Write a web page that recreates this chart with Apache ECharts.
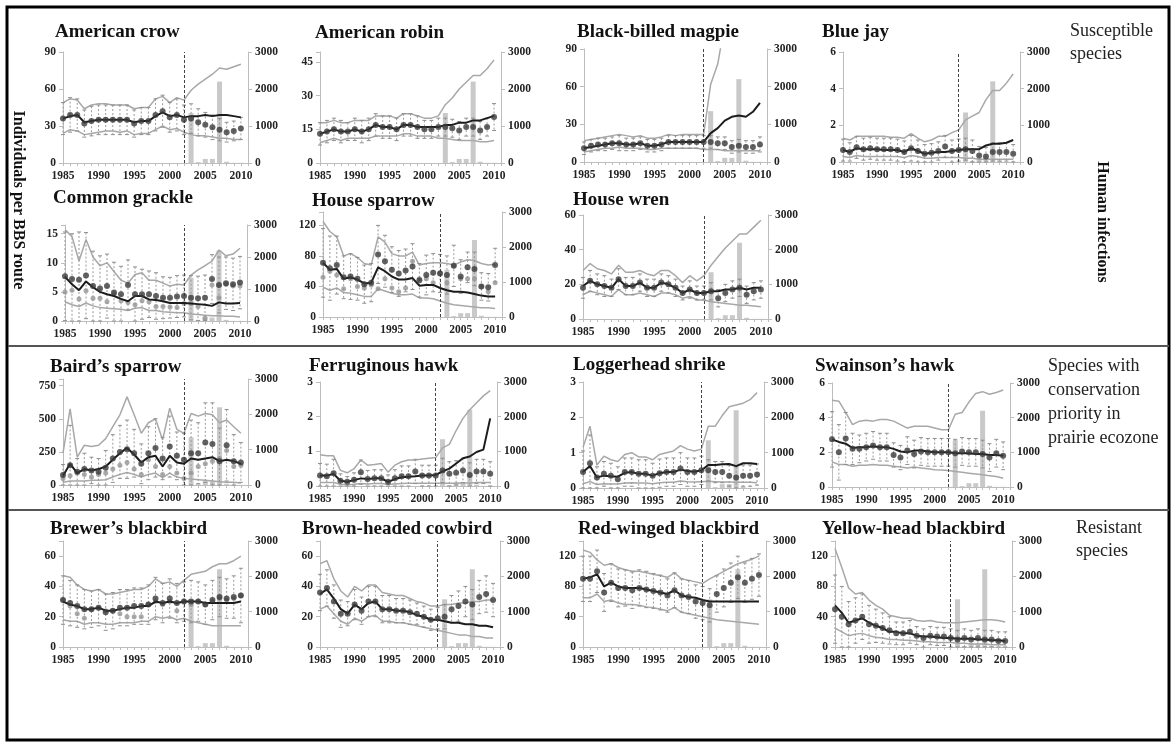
<!DOCTYPE html>
<html>
<head>
<meta charset="utf-8">
<script src="https://cdn.jsdelivr.net/npm/echarts@6/dist/echarts.min.js"></script>
<style>
  html, body { margin: 0; padding: 0; background: #fff; }
  #chart { width: 1176px; height: 746px; }
</style>
</head>
<body>
<div id="chart"></div>
<script>
// survey years and human WNV infections
const years = [1985,1986,1987,1988,1989,1990,1991,1992,1993,1994,1995,1996,1997,1998,1999,2000,2001,2002,2003,2004,2005,2006,2007,2008,2009,2010];
const infectionYears = [2003,2004,2005,2006,2007,2008,2009,2010];
const infections = [1350,25,110,110,2200,35,5,5];

// American crow
const crowObs = [36,39,39,32,34,35,35,35,35,35,32,34,34,39,42,37,39,35,36,33,31,29,27,25,26,28];
const crowErr = [13,14,13,11,12,12,12,12,12,12,11,11,11,13,13,12,13,12,12,11,10,10,9,8,8,9];
const crowTrend = [36,38,39,33,34,35,35,35,35,35,33,34,34,38,41,38,39,37,38,38,39,38,39,39,38,37];
const crowUpper = [49,52,51,44,47,48,48,47,47,47,44,45,45,52,54,49,53,51,59,64,68,72,77,76,78,80];
const crowLower = [24,27,26,23,24,25,26,26,25,26,23,24,24,27,30,27,28,25,23,22,22,21,20,20,19,19];

// American robin
const robinObs = [13,14,15,14,14,15,14,15,17,16,16,15,17,17,16,15,15,16,16,15.5,14.5,16,16,14.5,16,20.5];
const robinErr = [5,5,5,5,4,5,5,5,5,5,5,5,5,5,5,4,4,4,4,4,4,4,4,4,4,6];
const robinTrend = [13,14,15,14,14,15,14,15,17,16,16,15,17,17,16,16,16,16,17,17,18,18,19,19,20,21];
const robinUpper = [18,18,19,18,18,19,19,19,21,21,21,20,22,22,21,20,20,21,26,29,33,36,39,39,42,46];
const robinLower = [9,10,11,10,11,11,11,11,12,12,12,12,13,13,12,12,12,11,11,10.5,10,10,10,9.5,9.5,10];

// Black-billed magpie
const magpieObs = [11,13,14,14,15,15,14,14,15,13,13,14,16,16,16,16,16,16,16,15,15,12,13,12,12,14];
const magpieErr = [5,5,5,5,5,6,5,5,5,5,5,5,5,5,5,5,5,5,5,5,5,5,5,5,5,6];
const magpieTrend = [11,12,13,14,15,15,14,14,15,13,13,14,16,16,16,16,16,16,23,27,33,36,37,36,40,47];
const magpieUpper = [17,18,19,20,21,22,21,20,21,19,19,20,22,21,22,22,22,22,62,78,110,140,160,175,190,210];
const magpieLower = [8,9,10,11,11,12,11,11,11,10,10,11,11,11,11,11,11,10,10,10,9,9,9,9,9,9];

// Blue jay
const bluejayObs = [0.65,0.55,0.8,0.7,0.75,0.7,0.7,0.7,0.65,0.55,0.75,0.6,0.45,0.5,0.6,0.85,0.6,0.65,0.7,0.6,0.35,0.3,0.55,0.55,0.55,0.45];
const bluejayErr = [0.6,0.5,0.6,0.6,0.6,0.6,0.6,0.6,0.6,0.6,0.7,0.6,0.5,0.5,0.5,0.6,0.6,0.6,0.6,0.6,0.5,0.5,0.5,0.5,0.5,0.5];
const bluejayTrend = [0.65,0.55,0.75,0.7,0.7,0.7,0.65,0.65,0.65,0.55,0.75,0.6,0.45,0.5,0.55,0.55,0.6,0.65,0.7,0.7,0.7,0.9,1.0,1.0,1.05,1.2];
const bluejayUpper = [1.3,1.2,1.4,1.4,1.4,1.4,1.4,1.35,1.35,1.3,1.55,1.3,1.1,1.2,1.4,1.4,1.6,1.75,2.3,2.5,2.7,3.4,3.9,3.9,4.3,4.8];
const bluejayLower = [0.3,0.25,0.35,0.3,0.3,0.3,0.3,0.3,0.3,0.25,0.35,0.3,0.2,0.2,0.25,0.25,0.25,0.25,0.2,0.2,0.15,0.15,0.15,0.15,0.15,0.15];

// Common grackle
const grackleObs = [7.7,7.2,7.1,7.8,6.0,5.6,6.0,4.9,4.6,6.2,4.6,4.6,4.6,4.3,4.0,4.0,4.2,4.3,4.0,3.9,4.0,7.2,6.2,6.5,6.3,6.6];
const grackleObs2 = [5.0,5.3,3.8,5.2,3.9,3.9,3.3,4.6,3.5,3.2,2.8,3.5,3.3,2.5,2.5,2.4,2.3,3.0,3.0,2.5,0.5,6.2,4.0,6.3,6.0,6.0];
const grackleErr = [7.6,7.8,8.2,7.4,6.0,5.6,5.5,5.2,4.8,4.3,4.7,4.3,4.0,4.0,3.6,3.5,3.6,3.6,3.8,3.8,3.9,4.2,4.8,4.5,4.5,4.5];
const grackleTrend = [7.6,6.3,5.3,6.8,5.8,5.0,4.6,4.3,3.8,3.4,4.3,4.3,3.7,3.6,3.4,3.1,3.1,3.1,3.0,2.9,2.8,2.6,3.2,3.0,3.0,3.1];
const grackleUpper = [15.7,14.5,10.3,14,11,9.5,10,8.5,7,6.5,8,8.3,7,7,6.5,6,6.3,6.2,7.9,8.8,9.5,10.3,12.2,11.2,11.5,12.5];
const grackleLower = [3.3,2.8,2.5,3.1,2.6,2.3,2.2,2.1,2.0,1.8,2.2,2.3,1.8,1.8,1.6,1.5,1.4,1.4,1.2,1.1,1.0,0.9,0.9,0.8,0.8,0.7];

// House sparrow
const sparrowObs = [71,64,68,52,53,50,43,45,82,73,62,57,61,66,48,55,58,57,55,67,53,65,63,40,39,68];
const sparrowObs2 = [52,60,55,37,50,40,38,42,37,50,38,33,38,73,50,50,45,58,45,67,50,50,50,40,33,45];
const sparrowErr = [45,42,38,28,30,28,25,25,38,34,30,30,28,30,22,26,25,25,25,27,22,20,22,18,18,22];
const sparrowTrend = [71,62,63,50,52,49,44,45,65,60,53,49,49,51,41,42,42,38,35,33,33,32,30,28,27,27];
const sparrowUpper = [125,112,105,80,83,78,70,68,105,98,83,80,80,85,68,70,71,71,70,68,72,75,74,70,68,69];
const sparrowLower = [39,35,38,32,31,29,27,27,37,34,31,29,29,30,25,25,24,21,18,16,15,14,13,12,12,11];

// House wren
const wrenObs = [18,22,20,19,18,23,19,19,21,18,18,21,20,18,15,17,15,15,16,12,15,17,18,14,16,17];
const wrenErr = [6,6,6,6,5,6,5,5,5,5,5,5,5,5,4,5,4,4,5,5,5,5,5,5,5,5];
const wrenTrend = [19,22,20,19,18,23,19,19,21,18,18,21,20,18,15,17,15,15,16,16,17,17,18,17,18,18];
const wrenUpper = [28,32,29,28,26,31,27,27,28,26,25,28,28,25,21,25,22,25,31,36,41,45,49,49,53,57];
const wrenLower = [14,16,15,14,13,17,14,14,15,14,13,15,15,14,12,13,11,11,10,9.5,9,8.5,8,8,7.5,7];

// Baird's sparrow
const bairdObs = [75,150,100,120,110,100,130,200,250,270,240,160,240,280,200,290,220,190,240,240,320,310,180,300,180,170];
const bairdObs2 = [50,70,90,80,60,80,90,120,150,170,120,80,190,140,80,140,90,50,90,140,160,180,200,260,140,150];
const bairdErr = [80,300,100,120,100,100,130,180,200,220,180,150,200,220,160,230,180,200,250,230,300,310,250,270,200,150];
const bairdTrend = [70,160,90,120,110,120,140,190,240,280,230,170,210,220,140,220,170,160,200,190,200,210,180,190,180,160];
const bairdUpper = [240,575,210,300,290,300,350,440,530,665,530,390,470,500,340,580,420,390,540,520,540,530,470,490,440,390];
const bairdLower = [20,30,30,30,35,35,40,60,80,95,80,60,80,90,55,90,60,50,45,40,35,30,25,20,20,15];

// Ferruginous hawk
const fhawkObs = [0.3,0.28,0.37,0.15,0.12,0.18,0.4,0.2,0.22,0.22,0.12,0.22,0.28,0.28,0.42,0.3,0.3,0.3,0.45,0.35,0.38,0.45,0.32,0.42,0.42,0.35];
const fhawkErr = [0.35,0.35,0.4,0.2,0.15,0.2,0.35,0.25,0.25,0.25,0.2,0.25,0.3,0.3,0.35,0.3,0.3,0.3,0.35,0.35,0.35,0.35,0.35,0.35,0.35,0.35];
const fhawkTrend = [0.3,0.3,0.35,0.15,0.12,0.17,0.22,0.2,0.22,0.22,0.12,0.2,0.25,0.27,0.28,0.3,0.3,0.32,0.42,0.5,0.65,0.8,0.85,0.98,1.05,1.95];
const fhawkUpper = [0.9,0.87,0.87,0.45,0.38,0.5,0.75,0.6,0.62,0.65,0.4,0.6,0.7,0.75,0.75,0.78,0.8,0.82,1.1,1.2,1.6,1.95,2.2,2.4,2.6,2.75];
const fhawkLower = [0.1,0.1,0.1,0.05,0.03,0.05,0.07,0.06,0.07,0.07,0.04,0.06,0.07,0.08,0.08,0.08,0.08,0.08,0.08,0.08,0.08,0.09,0.09,0.1,0.1,0.1];

// Loggerhead shrike
const shrikeObs = [0.45,0.7,0.3,0.4,0.35,0.25,0.45,0.45,0.4,0.4,0.35,0.42,0.45,0.45,0.55,0.45,0.45,0.5,0.5,0.45,0.45,0.35,0.3,0.35,0.35,0.38];
const shrikeErr = [0.6,0.8,0.3,0.35,0.35,0.35,0.4,0.4,0.4,0.4,0.35,0.4,0.4,0.4,0.45,0.4,0.4,0.4,0.3,0.3,0.3,0.3,0.3,0.3,0.3,0.3];
const shrikeTrend = [0.45,0.62,0.3,0.35,0.33,0.32,0.43,0.45,0.4,0.4,0.35,0.42,0.45,0.45,0.52,0.48,0.46,0.5,0.65,0.65,0.67,0.68,0.62,0.7,0.7,0.68];
const shrikeUpper = [1.15,1.75,0.65,0.9,0.8,0.75,0.95,1.0,0.88,0.88,0.8,0.95,1.0,1.05,1.2,1.1,1.05,1.1,1.75,1.75,2.05,2.3,2.35,2.4,2.5,2.7];
const shrikeLower = [0.12,0.18,0.1,0.12,0.11,0.11,0.14,0.15,0.14,0.14,0.12,0.15,0.16,0.16,0.2,0.18,0.17,0.18,0.19,0.18,0.17,0.17,0.16,0.16,0.16,0.15];

// Swainson's hawk
const swainsonObs = [2.75,2.0,2.8,2.2,2.2,2.3,2.4,2.3,2.3,1.85,1.7,2.1,1.9,2.05,2.0,2.0,2.0,2.0,1.95,2.05,2.0,2.0,1.9,1.7,1.95,1.8];
const swainsonErr = [1.6,1.6,1.5,0.9,0.8,0.8,0.8,0.8,0.8,0.7,0.7,0.8,0.8,0.8,0.8,0.8,0.8,0.8,0.8,0.8,0.8,0.8,0.8,0.8,0.8,0.8];
const swainsonTrend = [2.75,2.6,2.5,2.25,2.3,2.3,2.35,2.3,2.3,2.2,2.05,2.0,2.1,2.1,2.05,2.0,2.0,2.0,1.95,1.95,1.95,1.9,1.9,1.85,1.85,1.8];
const swainsonUpper = [5.0,4.95,4.3,3.6,3.8,3.85,3.8,3.9,3.9,3.8,3.6,3.4,3.5,3.5,3.5,3.4,3.3,3.3,4.2,4.3,4.9,5.4,5.5,5.35,5.45,5.6];
const swainsonLower = [1.45,1.3,1.3,1.2,1.25,1.25,1.3,1.25,1.25,1.2,1.15,1.1,1.15,1.1,1.05,1.0,0.98,0.95,0.9,0.85,0.8,0.75,0.7,0.65,0.6,0.5];

// Brewer's blackbird
const brewerObs = [31,29,27,25,25,26,23,24,26,26,27,27,28,32,29,32,29,30,30,30,28,31,33,32,33,34];
const brewerObs2 = [31,27,22,19,25,26,24,24,22,20,20,20,28,30,28,30,24,30,28,30,28,30,32,31,32,34];
const brewerErr = [16,15,14,13,12,12,12,12,12,12,12,12,13,14,13,13,13,13,14,13,13,13,13,13,14,18];
const brewerTrend = [30,28,27,25,25,26,24,24,25,26,26,27,27,30,29,30,29,30,30,30,29,29,29,29,29,30];
const brewerUpper = [47,46,41,38,37,38,35,35,36,37,38,38,40,45,42,43,40,44,48,49,50,53,55,55,57,60];
const brewerLower = [18,17,17,15,16,16,15,15,16,16,16,17,17,20,19,20,18,19,17,16,15,14,14,14,14,14];

// Brown-headed cowbird
const cowbirdObs = [36,39,30,22,22,28,24,30,30,25,25,24,24,23,22,20,18,19,20,25,27,30,28,33,35,31];
const cowbirdErr = [12,12,11,9,8,10,9,10,10,9,9,8,8,8,7,7,7,7,8,9,10,10,10,11,12,11];
const cowbirdTrend = [35,38,32,25,22,28,25,29,30,25,25,24,24,23,21,20,18,18,17,16,16,15,15,14,14,13];
const cowbirdUpper = [55,57,45,37,33,40,37,41,41,36,35,34,34,32,30,29,27,27,28,28,29,29,30,30,31,31];
const cowbirdLower = [25,27,22,17,15,19,17,20,21,17,17,16,16,15,14,13,12,11,10,9,8,8,7,7,6,6];

// Red-winged blackbird
const redwingObs = [90,90,100,72,85,78,78,75,78,76,74,72,68,75,68,66,60,58,55,70,78,85,92,85,90,95];
const redwingErr = [30,30,28,25,25,25,24,24,24,24,23,23,22,23,22,22,22,22,22,24,25,26,28,26,27,28];
const redwingTrend = [90,92,96,80,85,80,78,78,78,76,74,72,70,75,68,66,65,62,60,60,60,60,60,60,60,60];
const redwingUpper = [128,125,115,108,110,105,102,100,100,98,96,94,92,98,90,88,86,84,90,95,100,105,110,113,116,120];
const redwingLower = [65,65,70,60,62,58,56,56,55,53,52,50,48,52,46,44,42,40,38,36,35,34,33,32,31,30];

// Yellow-head blackbird
const yellowObs = [50,40,30,35,40,30,28,25,22,18,18,20,15,12,15,14,14,12,10,12,10,12,10,10,8,8];
const yellowErr = [45,40,30,30,30,25,22,20,18,15,15,15,12,12,12,12,12,12,12,12,12,12,12,12,12,12];
const yellowTrend = [55,45,32,35,38,32,28,25,20,20,18,18,15,14,14,13,12,12,11,11,11,10,10,9,9,8];
const yellowUpper = [130,105,78,70,72,62,55,50,42,40,38,38,35,34,35,33,32,32,32,33,34,35,36,36,35,33];
const yellowLower = [25,20,15,17,18,15,13,12,10,10,9,9,8,7,7,6,6,6,5,5,4,4,4,3,3,3];

const SERIF = 'Liberation Serif';

// panel layout: box = [left, top, width, height] of the plot area
const panels = [
  { title: 'American crow', tx: 55, ty: 32, box: [63, 52, 185, 111], yMax: 90, yStep: 30, cut: true,
    obs: crowObs, err: crowErr, trend: crowTrend, upper: crowUpper, lower: crowLower },
  { title: 'American robin', tx: 315, ty: 33, box: [320, 52, 181, 111], yMax: 49.5, yStep: 15, cut: false,
    obs: robinObs, err: robinErr, trend: robinTrend, upper: robinUpper, lower: robinLower },
  { title: 'Black-billed magpie', tx: 577, ty: 32, box: [584, 49, 183, 113], yMax: 90, yStep: 30, cut: true,
    obs: magpieObs, err: magpieErr, trend: magpieTrend, upper: magpieUpper, lower: magpieLower },
  { title: 'Blue jay', tx: 822, ty: 32, box: [843, 52, 177, 110], yMax: 6, yStep: 2, cut: true,
    obs: bluejayObs, err: bluejayErr, trend: bluejayTrend, upper: bluejayUpper, lower: bluejayLower },
  { title: 'Common grackle', tx: 53, ty: 198, box: [65, 225, 182, 96], yMax: 16.5, yStep: 5, cut: true,
    obs: grackleObs, obs2: grackleObs2, err: grackleErr, trend: grackleTrend, upper: grackleUpper, lower: grackleLower },
  { title: 'House sparrow', tx: 312, ty: 201, box: [323, 212, 179, 105], yMax: 137.5, yStep: 40, cut: true,
    obs: sparrowObs, obs2: sparrowObs2, err: sparrowErr, trend: sparrowTrend, upper: sparrowUpper, lower: sparrowLower },
  { title: 'House wren', tx: 573, ty: 200, box: [583, 215, 185, 104], yMax: 60, yStep: 20, cut: true,
    obs: wrenObs, err: wrenErr, trend: wrenTrend, upper: wrenUpper, lower: wrenLower },
  { title: 'Baird\u2019s sparrow', tx: 50, ty: 367, box: [63, 379, 185, 106], yMax: 800, yStep: 250, cut: true,
    obs: bairdObs, obs2: bairdObs2, err: bairdErr, trend: bairdTrend, upper: bairdUpper, lower: bairdLower },
  { title: 'Ferruginous hawk', tx: 309, ty: 366, box: [320, 382, 177, 104], yMax: 3, yStep: 1, cut: true,
    obs: fhawkObs, err: fhawkErr, trend: fhawkTrend, upper: fhawkUpper, lower: fhawkLower },
  { title: 'Loggerhead shrike', tx: 573, ty: 365, box: [583, 382, 181, 106], yMax: 3, yStep: 1, cut: true,
    obs: shrikeObs, err: shrikeErr, trend: shrikeTrend, upper: shrikeUpper, lower: shrikeLower },
  { title: 'Swainson\u2019s hawk', tx: 815, ty: 366, box: [832, 383, 178, 104], yMax: 6, yStep: 2, cut: true,
    obs: swainsonObs, err: swainsonErr, trend: swainsonTrend, upper: swainsonUpper, lower: swainsonLower },
  { title: 'Brewer\u2019s blackbird', tx: 50, ty: 529, box: [63, 541, 185, 106], yMax: 70, yStep: 20, cut: true,
    obs: brewerObs, obs2: brewerObs2, err: brewerErr, trend: brewerTrend, upper: brewerUpper, lower: brewerLower },
  { title: 'Brown-headed cowbird', tx: 302, ty: 529, box: [320, 541, 180, 106], yMax: 70, yStep: 20, cut: true,
    obs: cowbirdObs, err: cowbirdErr, trend: cowbirdTrend, upper: cowbirdUpper, lower: cowbirdLower },
  { title: 'Red-winged blackbird', tx: 578, ty: 529, box: [583, 541, 183, 106], yMax: 140, yStep: 40, cut: true,
    obs: redwingObs, err: redwingErr, trend: redwingTrend, upper: redwingUpper, lower: redwingLower },
  { title: 'Yellow-head blackbird', tx: 822, ty: 529, box: [835, 541, 177, 106], yMax: 140, yStep: 40, cut: true,
    obs: yellowObs, err: yellowErr, trend: yellowTrend, upper: yellowUpper, lower: yellowLower }
];

const axisGray = '#bdbdbd';
const labelStyle = { fontFamily: SERIF, fontWeight: 'bold', fontSize: 11.5, color: '#222' };

function multipleOf(step) {
  return v => (Math.abs(v / step - Math.round(v / step)) < 1e-6 ? String(v) : '');
}

// dashed error bar with small caps
function renderErrorBar(params, api) {
  const x = api.value(0);
  const lo = api.coord([x, api.value(1)]);
  const hi = api.coord([x, api.value(2)]);
  const capStyle = { stroke: '#8f8f8f', lineWidth: 1 };
  return {
    type: 'group',
    children: [
      { type: 'line', shape: { x1: hi[0], y1: hi[1], x2: lo[0], y2: lo[1] },
        style: { stroke: '#9a9a9a', lineWidth: 1, lineDash: [2, 2] } },
      { type: 'line', shape: { x1: hi[0] - 2, y1: hi[1], x2: hi[0] + 2, y2: hi[1] }, style: capStyle },
      { type: 'line', shape: { x1: lo[0] - 2, y1: lo[1], x2: lo[0] + 2, y2: lo[1] }, style: capStyle }
    ]
  };
}

const option = {
  animation: false,
  backgroundColor: '#fff',
  grid: [], xAxis: [], yAxis: [], series: [], graphic: []
};

panels.forEach((p, i) => {
  const [left, top, width, height] = p.box;
  const ly = 2 * i, ry = 2 * i + 1;
  const pair = arr => years.map((y, k) => [y, arr[k]]);

  option.grid.push({ left, top, width, height });
  option.xAxis.push({
    type: 'value', gridIndex: i, min: 1985, max: 2011, interval: 1,
    axisLine: { show: true, lineStyle: { color: axisGray } },
    axisTick: { show: true, length: 3, lineStyle: { color: axisGray } },
    axisLabel: Object.assign({ margin: 7, formatter: v => (v % 5 === 0 ? String(v) : '') }, labelStyle),
    splitLine: { show: false }
  });
  option.yAxis.push({
    type: 'value', gridIndex: i, position: 'left', min: 0, max: p.yMax, interval: p.yStep,
    axisLine: { show: true, lineStyle: { color: axisGray } },
    axisTick: { show: true, length: 4, lineStyle: { color: axisGray } },
    axisLabel: Object.assign({ margin: 7, formatter: multipleOf(p.yStep) }, labelStyle),
    splitLine: { show: false }
  });
  option.yAxis.push({
    type: 'value', gridIndex: i, position: 'right', min: 0, max: 3000, interval: 1000,
    axisLine: { show: true, lineStyle: { color: axisGray } },
    axisTick: { show: true, length: 4, lineStyle: { color: axisGray } },
    axisLabel: Object.assign({ margin: 7, formatter: v => String(v) }, labelStyle),
    splitLine: { show: false }
  });

  option.series.push({
    type: 'bar', xAxisIndex: i, yAxisIndex: ry, barWidth: 5, z: 1,
    itemStyle: { color: '#c9c9c9' },
    data: infectionYears.map((y, k) => [y, infections[k]]),
    markLine: p.cut ? {
      silent: true, symbol: 'none', label: { show: false },
      lineStyle: { type: [3, 2], color: '#444', width: 1 },
      data: [{ xAxis: 2002 }]
    } : undefined
  });
  [p.upper, p.lower].forEach(arr => {
    option.series.push({
      type: 'line', xAxisIndex: i, yAxisIndex: ly, symbol: 'none', z: 2,
      lineStyle: { color: '#a8a8a8', width: 1.5 }, data: pair(arr)
    });
  });
  option.series.push({
    type: 'custom', xAxisIndex: i, yAxisIndex: ly, z: 3, renderItem: renderErrorBar,
    encode: { x: 0, y: [1, 2] },
    data: years.map((y, k) => [y, Math.max(0, p.obs[k] - p.err[k]), Math.min(p.yMax, p.obs[k] + p.err[k])])
  });
  if (p.obs2) {
    option.series.push({
      type: 'scatter', xAxisIndex: i, yAxisIndex: ly, symbolSize: 5, z: 4,
      itemStyle: { color: '#959595' }, data: pair(p.obs2)
    });
  }
  option.series.push({
    type: 'line', xAxisIndex: i, yAxisIndex: ly, symbol: 'none', z: 5,
    lineStyle: { color: '#1c1c1c', width: 2 }, data: pair(p.trend)
  });
  option.series.push({
    type: 'scatter', xAxisIndex: i, yAxisIndex: ly, symbolSize: 6, z: 6,
    itemStyle: { color: '#3a3a3a' }, data: pair(p.obs)
  });

  option.graphic.push({
    type: 'text', x: p.tx, y: p.ty,
    style: { text: p.title, fontFamily: SERIF, fontWeight: 'bold', fontSize: 19, fill: '#111', verticalAlign: 'middle' }
  });
});

// frame and group separators
option.graphic.push(
  { type: 'rect', shape: { x: 7, y: 7, width: 1162, height: 733 }, style: { fill: 'none', stroke: '#000', lineWidth: 3 } },
  { type: 'line', shape: { x1: 8, y1: 346, x2: 1169, y2: 346 }, style: { stroke: '#555', lineWidth: 2 } },
  { type: 'line', shape: { x1: 8, y1: 510, x2: 1169, y2: 510 }, style: { stroke: '#555', lineWidth: 2 } }
);

// axis titles and group notes
const note = (text, x, y) => ({
  type: 'text', x, y,
  style: { text, fontFamily: SERIF, fontSize: 18, fill: '#222', verticalAlign: 'middle' }
});
option.graphic.push(
  { type: 'text', x: 18, y: 200, rotation: -Math.PI / 2,
    style: { text: 'Individuals per BBS route', fontFamily: SERIF, fontWeight: 'bold', fontSize: 16, fill: '#111', align: 'center', verticalAlign: 'middle' } },
  { type: 'text', x: 1102, y: 222, rotation: -Math.PI / 2,
    style: { text: 'Human infections', fontFamily: SERIF, fontWeight: 'bold', fontSize: 16, fill: '#111', align: 'center', verticalAlign: 'middle' } },
  note('Susceptible', 1070, 31), note('species', 1070, 54),
  note('Species with', 1048, 366), note('conservation', 1048, 390),
  note('priority in', 1048, 414), note('prairie ecozone', 1048, 438),
  note('Resistant', 1076, 528), note('species', 1076, 551)
);

const chart = echarts.init(document.getElementById('chart'));
chart.setOption(option);
window.addEventListener('resize', () => chart.resize());
</script>
</body>
</html>
